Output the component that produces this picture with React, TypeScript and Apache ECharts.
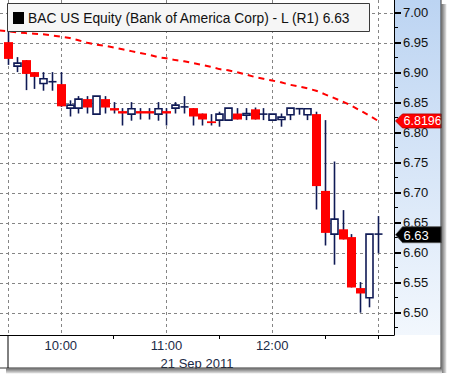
import React, { useEffect, useRef } from "react";
import * as echarts from "echarts";

const times = [
  "09:30", "09:35", "09:40", "09:45", "09:50", "09:55",
  "10:00", "10:05", "10:10", "10:15", "10:20", "10:25",
  "10:30", "10:35", "10:40", "10:45", "10:50", "10:55",
  "11:00", "11:05", "11:10", "11:15", "11:20", "11:25",
  "11:30", "11:35", "11:40", "11:45", "11:50", "11:55",
  "12:00", "12:05", "12:10", "12:15", "12:20", "12:25",
  "12:30", "12:35", "12:40", "12:45", "12:50", "12:55",
  "13:00",
];
const opens = [
  6.951, 6.911, 6.921, 6.901, 6.882, 6.885, 6.881, 6.841, 6.841, 6.856, 6.831,
  6.856, 6.841, 6.836, 6.831, 6.836, 6.836, 6.831, 6.836, 6.841, 6.843, 6.841,
  6.832, 6.819, 6.821, 6.821, 6.832, 6.829, 6.839, 6.831, 6.821, 6.822, 6.830,
  6.840, 6.830, 6.831, 6.703, 6.631, 6.639, 6.626, 6.541, 6.525, 6.631,
];
const closes = [
  6.923, 6.916, 6.898, 6.893, 6.890, 6.885, 6.844, 6.846, 6.856, 6.842, 6.861,
  6.842, 6.837, 6.832, 6.840, 6.832, 6.832, 6.840, 6.832, 6.846, 6.843, 6.827,
  6.822, 6.816, 6.831, 6.841, 6.822, 6.832, 6.822, 6.831, 6.831, 6.826, 6.841,
  6.840, 6.840, 6.711, 6.633, 6.656, 6.622, 6.542, 6.532, 6.631, 6.631,
];
const lows = [
  6.913, 6.901, 6.871, 6.873, 6.870, 6.870, 6.843, 6.827, 6.832, 6.832, 6.831,
  6.832, 6.832, 6.812, 6.820, 6.822, 6.822, 6.820, 6.812, 6.832, 6.832, 6.812,
  6.812, 6.812, 6.810, 6.821, 6.822, 6.821, 6.822, 6.821, 6.821, 6.810, 6.821,
  6.830, 6.821, 6.672, 6.612, 6.580, 6.622, 6.542, 6.500, 6.509, 6.599,
];
const highs = [
  6.971, 6.926, 6.921, 6.901, 6.901, 6.901, 6.901, 6.854, 6.861, 6.861, 6.861,
  6.861, 6.851, 6.841, 6.851, 6.841, 6.841, 6.851, 6.841, 6.851, 6.861, 6.841,
  6.832, 6.831, 6.835, 6.841, 6.841, 6.841, 6.842, 6.841, 6.831, 6.832, 6.841,
  6.840, 6.840, 6.835, 6.821, 6.752, 6.671, 6.631, 6.551, 6.631, 6.661,
];
const maTimes = ["09:25", ...times];
const maValues = [
  6.9705, 6.969, 6.9675, 6.966, 6.965, 6.964, 6.962, 6.960, 6.958, 6.954, 6.950,
  6.947, 6.945, 6.942, 6.939, 6.936, 6.933, 6.930, 6.926, 6.924, 6.921, 6.919,
  6.916, 6.913, 6.910, 6.906, 6.904, 6.901, 6.897, 6.893, 6.890, 6.887, 6.884,
  6.880, 6.877, 6.874, 6.870, 6.864, 6.858, 6.852, 6.845, 6.837, 6.829, 6.820,
];
const xLabelTimes = ["10:00", "11:00", "12:00"];
const xTickTimes = ["10:30", "11:30", "12:30", "13:00"];
const xGridTimes = ["09:30", "10:00", "11:00", "12:00", "13:00"];
const yTickValues = [6.5, 6.55, 6.6, 6.65, 6.7, 6.75, 6.8, 6.85, 6.9, 6.95, 7.0];
const yMinorTickValues = [6.475, 6.525, 6.575, 6.625, 6.675, 6.725, 6.775, 6.825, 6.875, 6.925, 6.975];
const tagValues = [6.8196, 6.63];
const tagTexts = ["6.8196", "6.63"];
const legendText = "BAC US Equity (Bank of America Corp) - L (R1) 6.63";
const dateLabel = "21 Sep 2011";

const toMin = (s: string) => {
  const [h, m] = s.split(":").map(Number);
  return h * 60 + m;
};
const fmtMin = (v: number) => {
  const h = Math.floor(v / 60);
  const m = Math.round(v - h * 60);
  return `${h < 10 ? "0" + h : h}:${m < 10 ? "0" + m : m}`;
};

const X_MIN = 565.46;
const X_MAX = 789.2;
const Y_MIN = 6.4628;
const Y_MAX = 7.0212;
const NAVY = "#0f1a55";
const FONT = "Liberation Sans";
const GRID_STYLE = { stroke: "#858585", lineWidth: 1, lineDash: [3, 3] };

export default function App() {
  const ref = useRef<HTMLDivElement>(null);
  useEffect(() => {
    const chart = echarts.init(ref.current!, null, { renderer: "svg" });
    const candleData = times.map((t, i) => [toMin(t), opens[i], closes[i], lows[i], highs[i]]);
    const maData = maTimes.map((t, i) => [toMin(t), maValues[i]]);
    const tagData = tagValues.map((v) => [X_MAX, v]);
    const hGridData = yTickValues.map((v) => [X_MIN, v]);
    const vGridData = xGridTimes.map((t) => [toMin(t), Y_MIN]);

    chart.setOption({
      animation: false,
      backgroundColor: "#ffffff",
      textStyle: { fontFamily: FONT },
      grid: { left: 0, top: 0, width: 394, height: 335, containLabel: false },
      xAxis: [
        {
          type: "value",
          min: X_MIN,
          max: X_MAX,
          axisLine: { show: true, onZero: false, lineStyle: { color: "#000", width: 1 } },
          axisTick: {
            show: true,
            customValues: xTickTimes.map(toMin),
            length: 4,
            lineStyle: { color: "#000" },
          },
          axisLabel: {
            customValues: xLabelTimes.map(toMin),
            formatter: (v: number) => fmtMin(v),
            color: "#1b2a47",
            fontSize: 13,
            margin: 4,
            fontFamily: FONT,
          },
          splitLine: { show: false },
          name: dateLabel,
          nameLocation: "middle",
          nameGap: 20,
          nameTextStyle: { color: "#1b2a47", fontSize: 13, fontFamily: FONT },
        },
      ],
      yAxis: [
        {
          type: "value",
          position: "right",
          min: Y_MIN,
          max: Y_MAX,
          axisLine: { show: true, lineStyle: { color: "#000", width: 1 } },
          axisTick: {
            show: true,
            customValues: yTickValues,
            length: 7,
            lineStyle: { color: "#000", width: 2 },
          },
          axisLabel: {
            customValues: yTickValues,
            formatter: (v: number) => v.toFixed(2),
            color: "#111",
            fontSize: 13,
            margin: 9,
            fontFamily: FONT,
          },
          splitLine: { show: false },
        },
        {
          type: "value",
          position: "right",
          min: Y_MIN,
          max: Y_MAX,
          axisLine: { show: false },
          axisTick: {
            show: true,
            customValues: yMinorTickValues,
            length: 4,
            lineStyle: { color: "#000", width: 1 },
          },
          axisLabel: { show: false },
          splitLine: { show: false },
        },
      ],
      graphic: [
        {
          type: "rect",
          z: -1,
          shape: { x: 394, y: 0, width: 47, height: 335 },
          style: {
            fill: new echarts.graphic.LinearGradient(0, 0, 0, 1, [
              { offset: 0, color: "#bcd4f2" },
              { offset: 1, color: "#f2f7fd" },
            ]),
          },
        },
        {
          type: "rect",
          z: 50,
          shape: { x: 441.5, y: 4, width: 5, height: 369 },
          style: {
            fill: new echarts.graphic.LinearGradient(0, 0, 1, 0, [
              { offset: 0, color: "#707070" },
              { offset: 1, color: "#e8e8e8" },
            ]),
          },
        },
        {
          type: "rect",
          z: 50,
          shape: { x: 6, y: 368.5, width: 436, height: 5 },
          style: {
            fill: new echarts.graphic.LinearGradient(0, 0, 0, 1, [
              { offset: 0, color: "#707070" },
              { offset: 1, color: "#e8e8e8" },
            ]),
          },
        },
        {
          type: "line",
          z: 51,
          shape: { x1: 441, y1: 0, x2: 441, y2: 368.5 },
          style: { stroke: "#333", lineWidth: 1 },
        },
        {
          type: "line",
          z: 51,
          shape: { x1: 0, y1: 368, x2: 441, y2: 368 },
          style: { stroke: "#333", lineWidth: 1 },
        },
        {
          type: "line",
          z: 51,
          shape: { x1: 8, y1: 335, x2: 8, y2: 368 },
          style: { stroke: "#000", lineWidth: 1 },
        },
        {
          type: "rect",
          z: 100,
          shape: { x: 7.5, y: 3.5, width: 362, height: 28 },
          style: { fill: "#f6f6f6", stroke: "#3a3a3a", lineWidth: 1 },
        },
        {
          type: "rect",
          z: 101,
          shape: { x: 13, y: 12, width: 11, height: 12 },
          style: { fill: "#000" },
        },
        {
          type: "text",
          z: 101,
          x: 28,
          y: 18.5,
          style: {
            text: legendText,
            fill: "#111",
            font: `13.8px "${FONT}"`,
            verticalAlign: "middle",
          },
        },
      ],
      series: [
        {
          type: "custom",
          name: "hGrid",
          z: 1,
          silent: true,
          data: hGridData,
          renderItem: (params: any, api: any) => {
            const cs = params.coordSys;
            const p = api.coord([api.value(0), api.value(1)]);
            const y = Math.round(p[1]) + 0.5;
            return {
              type: "line",
              shape: { x1: cs.x, y1: y, x2: cs.x + cs.width, y2: y },
              style: GRID_STYLE,
            };
          },
        },
        {
          type: "custom",
          name: "vGrid",
          z: 1,
          silent: true,
          data: vGridData,
          renderItem: (params: any, api: any) => {
            const cs = params.coordSys;
            const p = api.coord([api.value(0), api.value(1)]);
            const x = Math.round(p[0]) + 0.5;
            return {
              type: "line",
              shape: { x1: x, y1: cs.y, x2: x, y2: cs.y + cs.height },
              style: GRID_STYLE,
            };
          },
        },
        {
          type: "line",
          name: "MA",
          data: maData,
          showSymbol: false,
          z: 4,
          lineStyle: { color: "#ff0000", width: 2, type: [6, 5] },
        },
        {
          type: "custom",
          name: "BAC",
          z: 5,
          encode: { x: 0, y: [1, 2, 3, 4] },
          data: candleData,
          renderItem: (params: any, api: any) => {
            const x = api.value(0);
            const o = api.value(1);
            const c = api.value(2);
            const l = api.value(3);
            const h = api.value(4);
            const pO = api.coord([x, o]);
            const pC = api.coord([x, c]);
            const pL = api.coord([x, l]);
            const pH = api.coord([x, h]);
            const cx = Math.round(pO[0]) + 0.5;
            const top = Math.min(pO[1], pC[1]);
            const bot = Math.max(pO[1], pC[1]);
            const children: any[] = [
              {
                type: "line",
                shape: { x1: cx, y1: pH[1], x2: cx, y2: pL[1] },
                style: { stroke: NAVY, lineWidth: 1.6 },
              },
            ];
            if (Math.abs(c - o) < 1e-9) {
              children.push({
                type: "line",
                shape: { x1: cx - 4, y1: top, x2: cx + 4, y2: top },
                style: { stroke: NAVY, lineWidth: 1.6 },
              });
            } else if (c > o) {
              children.push({
                type: "rect",
                shape: { x: cx - 3.5, y: top, width: 7, height: Math.max(bot - top, 1) },
                style: { fill: "#ffffff", stroke: NAVY, lineWidth: 1.6 },
              });
            } else {
              children.push({
                type: "rect",
                shape: { x: cx - 4.5, y: top, width: 9, height: Math.max(bot - top, 1.5) },
                style: { fill: "#ff0000" },
              });
            }
            return { type: "group", children };
          },
        },
        {
          type: "custom",
          name: "tags",
          z: 10,
          clip: false,
          silent: true,
          data: tagData,
          renderItem: (params: any, api: any) => {
            const p = api.coord([api.value(0), api.value(1)]);
            const i = params.dataIndex;
            const col = i === 0 ? "#ff0000" : "#000000";
            const hh = i === 0 ? 7 : 8;
            const x0 = p[0] + 1.5;
            return {
              type: "group",
              children: [
                {
                  type: "polygon",
                  shape: {
                    points: [
                      [x0, p[1]],
                      [x0 + 7, p[1] - hh],
                      [x0 + 46, p[1] - hh],
                      [x0 + 46, p[1] + hh],
                      [x0 + 7, p[1] + hh],
                    ],
                  },
                  style: { fill: col, stroke: i === 0 ? "#b00000" : "#555", lineWidth: 0.8 },
                },
                {
                  type: "text",
                  x: x0 + 8,
                  y: p[1] + 0.5,
                  style: {
                    text: tagTexts[i],
                    fill: "#ffffff",
                    font: `${i === 0 ? 12.5 : 13}px "${FONT}"`,
                    verticalAlign: "middle",
                  },
                },
              ],
            };
          },
        },
      ],
    });
    return () => chart.dispose();
  }, []);
  return (
    <div
      ref={ref}
      style={{ position: "fixed", left: 0, top: 0, width: 452, height: 378 }}
    />
  );
}
